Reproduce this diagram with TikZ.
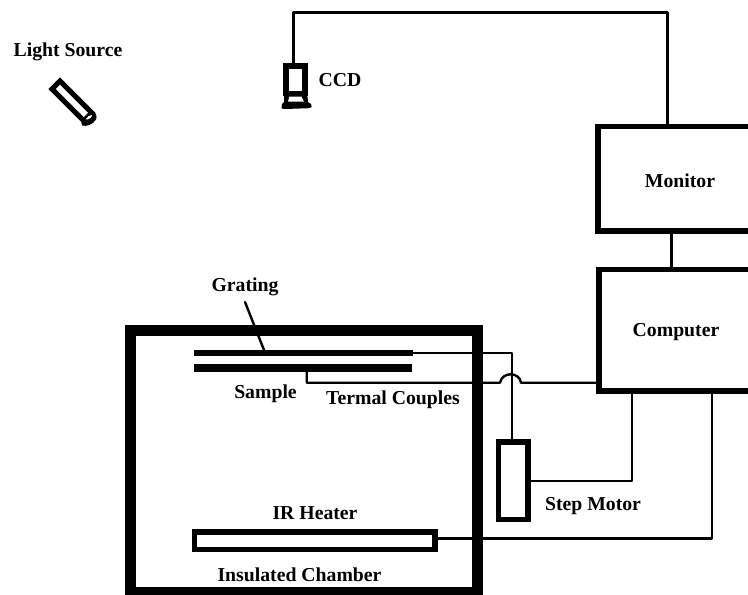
\documentclass[tikz,border=0pt]{standalone}
\usepackage{fontspec}
\setmainfont{Liberation Serif}
\def\px{0.75pt}
\tikzset{
  box/.style={draw=black,line width=5.5*\px,inner sep=0pt,outer sep=0pt,font=\fontsize{14.8pt}{17pt}\selectfont\bfseries,align=center},
  lbl/.style={inner sep=0pt,outer sep=0pt,yshift=-1.6pt,font=\fontsize{14.8pt}{17pt}\selectfont\bfseries},
  wire/.style={draw=black,line width=2.4*\px,line cap=round,line join=round},
  plate/.style={fill=black,draw=none,inner sep=0pt,outer sep=0pt}
}
\begin{document}
\begin{tikzpicture}[x=0.75pt,y=-0.75pt]
\useasboundingbox (0,0) rectangle (748,594);
\clip (0,0) rectangle (748,594);
\fill[white] (0,0) rectangle (748,594);
% boxes
\node[box,minimum width=164.3*\px,minimum height=104.5*\px] (monitor) at (680,178.7) {\raisebox{-6.4pt}[0pt][0pt]{Monitor}};
\node[box,minimum width=154*\px,minimum height=121.3*\px] (computer) at (676,330.3) {\raisebox{-4.3pt}[0pt][0pt]{Computer}};
\node[draw=black,line width=11*\px,inner sep=0pt,outer sep=0pt,minimum width=347*\px,minimum height=261.5*\px] (chamber) at (303.5,461.7) {};
\node[box,minimum width=29.5*\px,minimum height=77.5*\px] (motor) at (513.2,480.5) {};
\node[box,minimum width=240.5*\px,minimum height=17.5*\px] (heater) at (314.7,540.8) {};
\node[plate,minimum width=219*\px,minimum height=6*\px] (grating) at (303.5,353) {};
\node[plate,minimum width=218*\px,minimum height=8*\px] (sample) at (303,368) {};
% CCD
\node[draw=black,line width=5.5*\px,inner sep=0pt,outer sep=0pt,minimum width=19*\px,minimum height=27.5*\px] (ccd) at (295.4,79.9) {};
\fill[black] (284,93) -- (307,93) -- (307.5,97) -- (308,102) -- (311,104) -- (311.7,107) -- (309,108.2) -- (285,109) -- (281.5,108.5) -- (282,104) -- (284,102) -- cycle;
\fill[white] (289.3,96.7) -- (301.5,96.7) -- (304,101.7) -- (288,101.7) -- cycle;
% Light source
\draw[line width=5*\px,line join=miter] (60,81) -- (52,89) -- (84,121) -- (92,113) -- cycle;
\fill[black] (81,120) -- (91,110) .. controls (96,112) and (97.5,116) .. (96,119.5) .. controls (93,124) and (87,127) .. (82,125.5) -- cycle;
\fill[white] (85.5,119.5) .. controls (87,116.5) and (90,115) .. (92,115) .. controls (91.8,117.5) and (89,120) .. (85.5,119.5) -- cycle;
% named wire ends and bends
\coordinate (gr) at (245,302);
\coordinate (gp) at (264,350);
\coordinate (ccdtop) at (293.5,63);
\coordinate (c1) at (293.5,12.5);
\coordinate (c2) at (667.7,12.5);
\coordinate (m1) at (511.7,353);
\coordinate (t0) at (306.7,372);
\coordinate (t1) at (306.7,382.7);
\coordinate (j1) at (500,382.7);
\coordinate (j2) at (521,382.7);
\coordinate (sm) at (631.7,481);
\coordinate (hw) at (711.7,538.3);
% connectors
\draw[wire,line width=3*\px] (ccdtop) -- (c1) -- (c2) -- (c2 |- monitor.north);
\draw[wire,line width=3*\px] (671.7,231) -- (671.7,270);
\draw[wire] (gr) -- (gp);
\draw[wire] (grating.east) -- (m1) -- (m1 |- motor.north);
\draw[wire] (t0) -- (t1) -- (j1) .. controls (502,371.5) and (519.5,371.5) .. (j2) -- (j2 -| computer.west);
\draw[wire] (motor.east |- sm) -- (sm) -- (sm |- computer.south);
\draw[wire] (heater.east |- hw) -- (hw) -- (hw |- computer.south);
% labels
\node[lbl] (lightlbl) at (68,50) {Light Source};
\node[lbl] (ccdlbl) at (340,78) {CCD};
\node[lbl] (gratinglbl) at (245,284.5) {Grating};
\node[lbl] (samplelbl) at (265.5,392) {Sample};
\node[lbl] (termlbl) at (393,398) {Termal Couples};
\node[lbl] (motorlbl) at (593,504) {Step Motor};
\node[lbl] (irlbl) at (315,511) {IR Heater};
\node[lbl] (chamblbl) at (299.5,573) {Insulated Chamber};
\end{tikzpicture}
\end{document}
